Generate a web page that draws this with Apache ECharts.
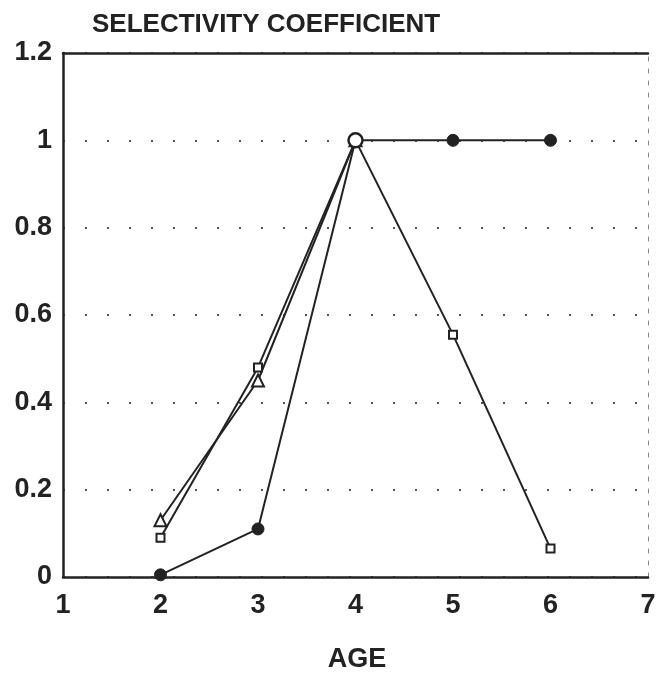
<!DOCTYPE html>
<html><head><meta charset="utf-8">
<script src="https://cdn.jsdelivr.net/npm/echarts@6/dist/echarts.min.js"></script>
<style>html,body{margin:0;padding:0;background:#fff}#c{width:667px;height:674px}</style>
</head><body><div id="c"></div>
<script>
const xTicks = [1, 2, 3, 4, 5, 6, 7];
const yTicks = [0, 0.2, 0.4, 0.6, 0.8, 1, 1.2];
const ages = [2, 3, 4, 5, 6];
const filledCircle = [0.005, 0.11, 1, 1, 1];
const triangleAges = [2, 3, 4];
const triangle = [0.13, 0.45, 1];
const square = [0.09, 0.48, 1, 0.555, 0.065];

const chart = echarts.init(document.getElementById('c'));
const ink = '#222';
const font = 'Liberation Sans, Arial, sans-serif';
chart.setOption({
  animation: false,
  backgroundColor: '#fff',
  title: [
    {text: 'SELECTIVITY COEFFICIENT', left: 87, top: 7,
     textStyle: {fontFamily: font, fontWeight: 'bold', fontSize: 26, color: ink}},
    {text: 'AGE', left: 352, top: 641, textAlign: 'center',
     textStyle: {fontFamily: font, fontWeight: 'bold', fontSize: 27, color: ink}}
  ],
  grid: {left: 63, right: 19, top: 53, bottom: 97},
  xAxis: [
    {type: 'value', min: 1, max: 7, interval: 1,
     axisLine: {show: true, onZero: false, lineStyle: {color: ink, width: 2.5}},
     axisTick: {show: false}, splitLine: {show: false},
     axisLabel: {fontFamily: font, fontWeight: 'bold', fontSize: 27, color: ink, margin: 15,
       formatter: v => xTicks.includes(v) ? String(v) : ''}},
    {type: 'value', position: 'top', min: 1, max: 7, interval: 1,
     axisLine: {show: true, onZero: false, lineStyle: {color: ink, width: 2.5}},
     axisTick: {show: false}, axisLabel: {show: false}, splitLine: {show: false}}
  ],
  yAxis: [
    {type: 'value', min: 0, max: 1.2, interval: 0.2,
     axisLine: {show: true, onZero: false, lineStyle: {color: ink, width: 2.5}},
     axisTick: {show: false},
     axisLabel: {fontFamily: font, fontWeight: 'bold', fontSize: 27, color: ink, margin: 11,
       formatter: v => { const t = yTicks.find(y => Math.abs(y - v) < 1e-9); return t === undefined ? '' : String(+t.toFixed(1)); }},
     splitLine: {show: true, lineStyle: {color: '#555', width: 2, type: [2, 20]}}},
    {type: 'value', position: 'right', min: 0, max: 1.2, interval: 0.2,
     axisLine: {show: true, onZero: false, lineStyle: {color: '#888', width: 1, type: [4, 8]}},
     axisTick: {show: false}, axisLabel: {show: false}, splitLine: {show: false}}
  ],
  series: [
    {type: 'line', data: square.map((v, i) => [ages[i], v]),
     symbol: 'rect', symbolSize: 8, showAllSymbol: true,
     lineStyle: {color: ink, width: 2},
     itemStyle: {color: '#fff', borderColor: ink, borderWidth: 2, opacity: 1}, z: 2},
    {type: 'line', data: triangle.map((v, i) => [triangleAges[i], v]),
     symbol: 'triangle', symbolSize: 12, showAllSymbol: true,
     lineStyle: {color: ink, width: 2},
     itemStyle: {color: '#fff', borderColor: ink, borderWidth: 2, opacity: 1}, z: 3},
    {type: 'line', data: filledCircle.map((v, i) => [ages[i], v]),
     symbol: 'circle', symbolSize: 12, showAllSymbol: true,
     lineStyle: {color: ink, width: 2},
     itemStyle: {color: ink, borderColor: ink, borderWidth: 1, opacity: 1}, z: 4},
    {type: 'scatter', data: [[4, 1]], symbol: 'circle', symbolSize: 14,
     itemStyle: {color: '#fff', borderColor: ink, borderWidth: 2.5, opacity: 1}, z: 5}
  ]
});
</script></body></html>
